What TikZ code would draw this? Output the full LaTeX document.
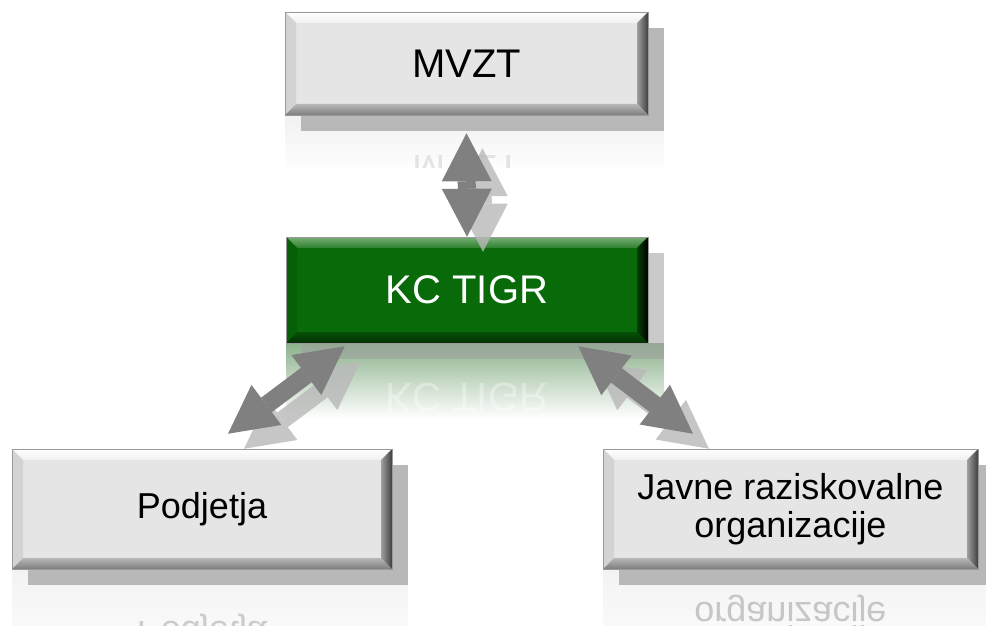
\documentclass[tikz,border=0pt]{standalone}
\usepackage{fontspec}
\setmainfont{Liberation Sans}
\usetikzlibrary{calc,shadows,fadings,arrows.meta}
\definecolor{boxgray}{RGB}{229,229,229}
\definecolor{boxgreen}{RGB}{8,106,8}
\definecolor{arrowgray}{RGB}{128,128,128}
\definecolor{shadegray}{RGB}{184,184,184}
\definecolor{reflgreen}{RGB}{140,178,140}
\newcommand\topsize{\fontsize{40}{44}\selectfont}
\newcommand\lowsize{\fontsize{36}{38}\selectfont}
\tikzfading[name=reflout, top color=transparent!0, bottom color=transparent!100]
\pgfdeclarelayer{background}
\pgfsetlayers{background,main}

\begin{document}
\begin{tikzpicture}[x=1pt,y=-1pt,
  bevel/.style n args={4}{path picture={
    \coordinate (bnw) at (path picture bounding box.north west);
    \coordinate (bne) at (path picture bounding box.north east);
    \coordinate (bsw) at (path picture bounding box.south west);
    \coordinate (bse) at (path picture bounding box.south east);
    \fill[#1] (bnw) -- (bne) -- ([xshift=-11pt,yshift=-11pt]bne) -- ([xshift=11pt,yshift=-11pt]bnw) -- cycle;
    \fill[#2] (bnw) -- (bsw) -- ([xshift=11pt,yshift=11pt]bsw) -- ([xshift=11pt,yshift=-11pt]bnw) -- cycle;
    \fill[#3] (bsw) -- (bse) -- ([xshift=-11pt,yshift=11pt]bse) -- ([xshift=11pt,yshift=11pt]bsw) -- cycle;
    \fill[#4] (bse) -- (bne) -- ([xshift=-11pt,yshift=-11pt]bne) -- ([xshift=-11pt,yshift=11pt]bse) -- cycle;
  }},
  box/.style={rectangle, draw=gray!80, line width=0.5pt, align=center},
  graybox/.style={box, fill=boxgray, font=\lowsize,
    drop shadow={shadow xshift=16pt, shadow yshift=-16pt, fill=shadegray, opacity=1},
    bevel={top color=white, bottom color=boxgray!60!white}{fill=boxgray!92!black}
      {top color=boxgray!80!black, bottom color=boxgray!55!black}{left color=gray!75, right color=black!75}},
  greenbox/.style={box, fill=boxgreen, text=white, font=\topsize,
    drop shadow={shadow xshift=16pt, shadow yshift=-16pt, fill=gray!75, opacity=0.55},
    bevel={top color=boxgreen!55!white, bottom color=boxgreen!85!white}{fill=boxgreen!90!black}
      {top color=boxgreen!75!black, bottom color=boxgreen!45!black}{left color=boxgreen!60!black, right color=black}},
  mirror/.style={yscale=-1, align=center},
  dblarrow/.style={line width=18pt, draw=arrowgray,
    {Triangle[length=48pt,width=50pt,line width=0pt]}-{Triangle[length=48pt,width=50pt,line width=0pt]}},
  arrowshadow/.style={dblarrow, draw=shadegray, opacity=0.8, transform canvas={xshift=16pt,yshift=-15pt}}
]
\useasboundingbox (0,0) rectangle (986,626);
\clip (0,0) rectangle (986,626);

%Boxes
\node[graybox, font=\topsize, minimum width=363pt, minimum height=103pt] (mvzt) at (466.5,63.5) {MVZT};
\node[greenbox, minimum width=362pt, minimum height=106pt] (kc) at (467,290) {KC TIGR};
\node[graybox, minimum width=380pt, minimum height=120pt] (pod) at (202,509) {Podjetja};
\node[graybox, minimum width=375pt, minimum height=120pt] (jro) at (790.5,509) {Javne raziskovalne\\organizacije};

%Reflections
\begin{pgfonlayer}{background}
\begin{scope}
\clip (mvzt.south west) rectangle ([xshift=16pt,yshift=-52pt]mvzt.south east);
\fill[boxgray!55!white, path fading=reflout] (mvzt.south west) rectangle ([xshift=16pt,yshift=-60pt]mvzt.south east);
\node[mirror, font=\topsize, text=gray!22] (mvztr) at ([yshift=-54pt]mvzt.south) {MVZT};
\end{scope}
\begin{scope}
\clip (kc.south west) rectangle ([xshift=16pt,yshift=-75pt]kc.south east);
\fill[reflgreen, path fading=reflout] (kc.south west) rectangle ([xshift=16pt,yshift=-75pt]kc.south east);
\node[mirror, font=\topsize, text=white, opacity=0.35] (kcr) at ([yshift=-54pt]kc.south) {KC TIGR};
\end{scope}
\fill[boxgray!45!white, path fading=reflout] (pod.south west) rectangle ([xshift=16pt,yshift=-110pt]pod.south east);
\node[mirror, font=\lowsize, text=gray!40] (podr) at ([yshift=-62pt]pod.south) {Podjetja};
\fill[boxgray!45!white, path fading=reflout] (jro.south west) rectangle ([xshift=16pt,yshift=-110pt]jro.south east);
\node[mirror, font=\lowsize, text=gray!45] (jror) at ([yshift=-62pt]jro.south) {Javne raziskovalne\\organizacije};
\end{pgfonlayer}

%Arrow shadows
\draw[arrowshadow] ([yshift=-18pt]mvzt.south) -- (kc.north);
\draw[arrowshadow] ([xshift=59pt,yshift=-3pt]kc.south west) -- ([xshift=26pt,yshift=15pt]pod.north);
\draw[arrowshadow] ([xshift=-70pt,yshift=-3pt]kc.south east) -- ([xshift=-97.5pt,yshift=15pt]jro.north);

%Arrows
\draw[dblarrow] ([yshift=-18pt]mvzt.south) -- (kc.north);
\draw[dblarrow] ([xshift=59pt,yshift=-3pt]kc.south west) -- ([xshift=26pt,yshift=15pt]pod.north);
\draw[dblarrow] ([xshift=-70pt,yshift=-3pt]kc.south east) -- ([xshift=-97.5pt,yshift=15pt]jro.north);
\end{tikzpicture}
\end{document}
